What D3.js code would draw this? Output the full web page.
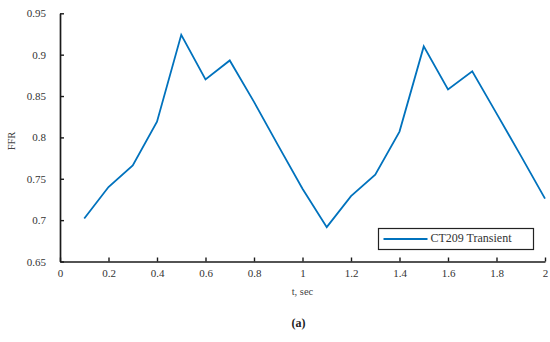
<!DOCTYPE html>
<html>
<head>
<meta charset="utf-8">
<script src="https://cdn.jsdelivr.net/npm/d3@7"></script>
<style>
  body { margin: 0; background: #fff; }
  text { font-family: "Liberation Serif", "Times New Roman", serif; }
</style>
</head>
<body>
<div id="chart"></div>
<script>
// time samples (sec) and FFR values
var times = [0.1, 0.2, 0.3, 0.4, 0.5, 0.6, 0.7, 0.8, 0.9, 1.0,
             1.1, 1.2, 1.3, 1.4, 1.5, 1.6, 1.7, 1.8, 1.9, 2.0];
var ffr = [0.702, 0.740, 0.766, 0.819, 0.924, 0.870, 0.893, 0.843, 0.790, 0.738,
           0.6915, 0.729, 0.755, 0.807, 0.910, 0.858, 0.880, 0.829, 0.778, 0.726];
var xTicks = [0, 0.2, 0.4, 0.6, 0.8, 1, 1.2, 1.4, 1.6, 1.8, 2];
var yTicks = [0.65, 0.7, 0.75, 0.8, 0.85, 0.9, 0.95];
var seriesName = "CT209 Transient";

var W = 550, H = 342,
  PL = 60, PR = 545, PT = 13.3, PB = 261.5,
  BLUE = "#0072bd";

var svg = d3.select("#chart").append("svg")
  .attr("width", W)
  .attr("height", H);

var x = d3.scaleLinear().domain([0, 2]).range([PL, PR]);
var y = d3.scaleLinear().domain([0.65, 0.95]).range([PB, PT]);

// axes with ticks pointing inward
var xAxis = svg.append("g")
  .attr("transform", "translate(0," + PB + ")")
  .call(d3.axisTop(x).tickValues(xTicks).tickSize(4).tickSizeOuter(0).tickFormat(d3.format("")));
xAxis.selectAll("text")
  .attr("y", 11.5)
  .attr("dy", "0.32em")
  .style("font-size", "11px")
  .attr("fill", "#333");

var yAxis = svg.append("g")
  .attr("transform", "translate(" + PL + ",0)")
  .call(d3.axisRight(y).tickValues(yTicks).tickSize(4).tickSizeOuter(0).tickFormat(d3.format("")));
yAxis.selectAll("text")
  .attr("x", -14)
  .attr("text-anchor", "end")
  .style("font-size", "11px")
  .attr("fill", "#333");

svg.selectAll(".domain").attr("stroke", "#1a1a1a").attr("stroke-width", 1.7);
svg.selectAll(".tick line").attr("stroke", "#1a1a1a").attr("stroke-width", 1.4);

// data line
var line = d3.line()
  .x(function(d, i) { return x(times[i]); })
  .y(function(d) { return y(d); });

svg.append("path")
  .datum(ffr)
  .attr("d", line)
  .attr("fill", "none")
  .attr("stroke", BLUE)
  .attr("stroke-width", 1.8)
  .attr("stroke-linejoin", "miter");

// legend
var lg = svg.append("g").attr("transform", "translate(378.5,228.5)");
lg.append("rect")
  .attr("width", 155)
  .attr("height", 21)
  .attr("fill", "#fff")
  .attr("stroke", "#222")
  .attr("stroke-width", 1.2);
lg.append("line")
  .attr("x1", 5).attr("x2", 49)
  .attr("y1", 10.5).attr("y2", 10.5)
  .attr("stroke", BLUE)
  .attr("stroke-width", 1.8);
lg.append("text")
  .attr("x", 52)
  .attr("y", 10)
  .attr("dy", "0.32em")
  .style("font-size", "12px")
  .attr("fill", "#333")
  .text(seriesName);

// axis titles
svg.append("text")
  .attr("transform", "translate(15,141) rotate(-90)")
  .attr("text-anchor", "middle")
  .style("font-size", "10.5px")
  .attr("fill", "#444")
  .text("FFR");

svg.append("text")
  .attr("x", x(1))
  .attr("y", 292)
  .attr("dy", "0.32em")
  .attr("text-anchor", "middle")
  .style("font-size", "10.5px")
  .attr("fill", "#444")
  .text("t, sec");

svg.append("text")
  .attr("x", x(1) - 4)
  .attr("y", 323)
  .attr("dy", "0.32em")
  .attr("text-anchor", "middle")
  .style("font-size", "12px")
  .style("font-weight", "bold")
  .attr("fill", "#222")
  .text("(a)");
</script>
</body>
</html>
